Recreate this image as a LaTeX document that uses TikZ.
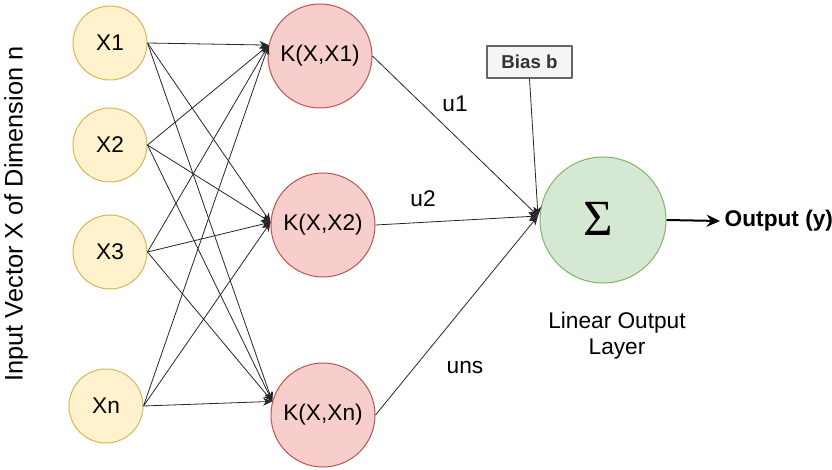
\documentclass[tikz,border=0pt]{standalone}
\usepackage{fontspec}
\setmainfont{Liberation Sans}
\newfontfamily\sigmafont{Liberation Serif}
\usetikzlibrary{arrows.meta}
\definecolor{inFill}{HTML}{FFF2CC}
\definecolor{inLine}{HTML}{D6B656}
\definecolor{kFill}{HTML}{F8CECC}
\definecolor{kLine}{HTML}{B85450}
\definecolor{sFill}{HTML}{D5E8D4}
\definecolor{sLine}{HTML}{82B366}
\definecolor{bFill}{HTML}{F5F5F5}
\definecolor{bLine}{HTML}{666666}
\definecolor{bText}{HTML}{333333}
\begin{document}
\begin{tikzpicture}[x=0.75pt, y=-0.75pt, font=\fontsize{17}{20}\selectfont, line join=round,
		innode/.style={circle, draw=inLine, fill=inFill, line width=0.75pt, minimum size=55.5pt, inner sep=0pt},
		knode/.style={circle, draw=kLine, fill=kFill, line width=0.75pt, minimum size=78pt, inner sep=0pt},
		edge/.style={-{Stealth[length=7pt, width=6pt]}, line width=0.6pt, draw=black!85}]
	\useasboundingbox (0,0) rectangle (832,470);
	% inputs and kernels
	\node[innode] (x1) at (110,43) {X1};
	\node[innode] (x2) at (110,145) {X2};
	\node[innode] (x3) at (110,252) {X3};
	\node[innode] (xn) at (106,406) {Xn};
	\node[knode] (k1) at (320,56) {K(X,X1)};
	\node[knode] (k2) at (323,225) {K(X,X2)};
	\node[knode] (kn) at (323,415) {K(X,Xn)};
	\node[circle, draw=sLine, fill=sFill, line width=0.75pt, minimum size=94.5pt, inner sep=0pt] (sum) at (603,220) {};
	\node (sig) at (598,219) {\sigmafont\fontsize{38}{40}\selectfont Σ};
	\node[draw=bLine, fill=bFill, line width=0.9pt, minimum width=63.75pt, minimum height=24pt, inner sep=0pt, text=bText, font=\fontsize{14}{16}\selectfont\bfseries] (bias) at (529.5,62) {Bias b};
	\coordinate (tip) at (538,216);
	\foreach \s in {x1,x2,x3,xn}
		\foreach \t/\a in {k1/168,k2/177,kn/165}
			\draw[edge] (\s.east) -- (\t.\a);
	\draw[edge] (k1.east) -- (tip);
	\draw[edge] (k2.east) -- (tip);
	\draw[edge] (kn.east) -- (tip);
	\draw[edge] (bias.south) -- (tip);
	\node[font=\fontsize{17}{20}\selectfont\bfseries, anchor=west] (out) at (720,221) {Output (y)};
	\draw[-{Stealth[length=10pt, width=9pt]}, line width=1.5pt] (sum.east) -- (out.west);
	% labels
	\node (u1) at (455,104) {u1};
	\node (u2) at (423,199) {u2};
	\node (uns) at (465,368) {uns};
	\node[align=center, font=\fontsize{17}{19.5}\selectfont] (lin) at (617,336) {Linear Output\\Layer};
	\node[rotate=90, font=\fontsize{19}{22}\selectfont] (vec) at (16,214) {Input Vector X of Dimension n};
\end{tikzpicture}
\end{document}
